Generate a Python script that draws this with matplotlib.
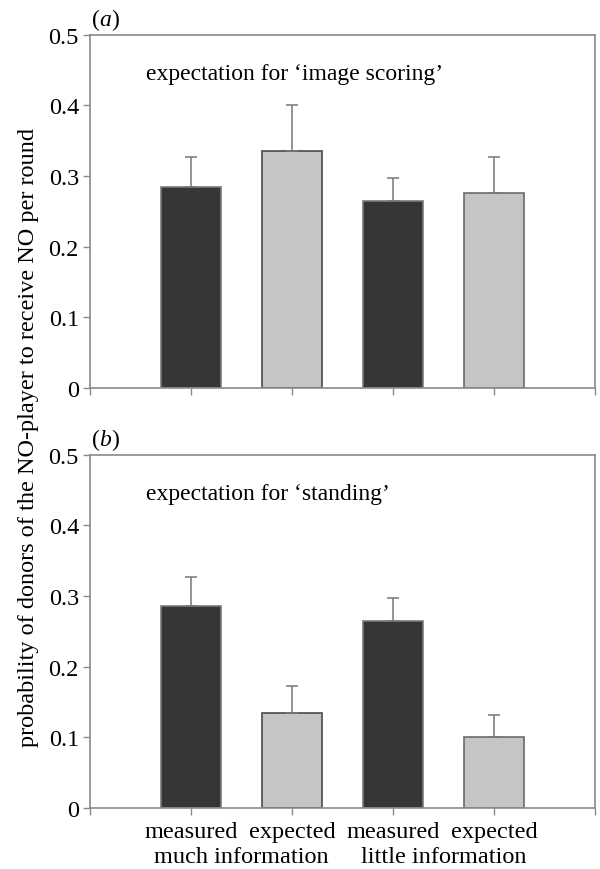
import matplotlib
matplotlib.use("Agg")
import matplotlib.pyplot as plt
import numpy as np

categories = ["measured", "expected", "measured", "expected"]
groups = ["much information", "little information"]
vals_a = [0.285, 0.336, 0.264, 0.276]
err_a = [0.042, 0.064, 0.033, 0.051]
vals_b = [0.286, 0.135, 0.264, 0.101]
err_b = [0.041, 0.037, 0.033, 0.030]
yticks = [0, 0.1, 0.2, 0.3, 0.4, 0.5]
ytick_labels = ["0", "0.1", "0.2", "0.3", "0.4", "0.5"]
notes = ["expectation for \u2018image scoring\u2019", "expectation for \u2018standing\u2019"]
panel_labels = ["a", "b"]

plt.rcParams['font.family'] = ['Liberation Serif', 'DejaVu Serif']
dark = "#363636"
light = "#c4c5c7"
spine_c = "#8a8a8a"

fig = plt.figure(figsize=(6, 8.7), dpi=100)
ax_a = fig.add_axes([0.15, 0.553, 0.8417, 0.406])
ax_b = fig.add_axes([0.15, 0.0701, 0.8417, 0.4063])

x = np.arange(1, len(categories) + 1)
colors = [dark, light, dark, light]
edges = ["#7a7a7a", "#4a4a4a", "#7a7a7a", "#6a6a6a"]

fs_tick = 17.5
for ax, vals, errs, note, pl in [(ax_a, vals_a, err_a, notes[0], panel_labels[0]),
                                 (ax_b, vals_b, err_b, notes[1], panel_labels[1])]:
    ax.bar(x, vals, width=0.6, color=colors, edgecolor=edges, linewidth=1.2, zorder=2)
    ax.errorbar(x, vals, yerr=[np.zeros(len(vals)), errs], fmt='none',
                ecolor="#777777", elinewidth=1.1, capsize=4, capthick=1.1, zorder=3)
    ax.set_xlim(0, 5)
    ax.set_ylim(0, 0.5)
    ax.set_yticks(yticks)
    ax.set_yticklabels(ytick_labels, fontsize=fs_tick)
    ax.set_xticks(np.arange(0, 6))
    for s in ax.spines.values():
        s.set_color(spine_c)
        s.set_linewidth(1.2)
    ax.tick_params(axis='both', direction='out', length=5, width=1, color=spine_c, pad=3)
    ax.text(0.11, 0.89, note, transform=ax.transAxes, fontsize=17, ha='left', va='center')
    ax.text(0.003, 1.012, "(", transform=ax.transAxes, fontsize=17, ha='left', va='bottom')
    ax.annotate(pl, xy=(0.003, 1.012), xycoords='axes fraction', xytext=(5.8, 0),
                textcoords='offset points', fontsize=17, style='italic', ha='left', va='bottom')
    ax.annotate(")", xy=(0.003, 1.012), xycoords='axes fraction', xytext=(14, 0),
                textcoords='offset points', fontsize=17, ha='left', va='bottom')

ax_a.set_xticklabels([])
ax_b.set_xticklabels([""] + categories + [""], fontsize=fs_tick)
ax_b.tick_params(axis='x', pad=4)
for i, g in enumerate(groups):
    ax_b.text(1.5 + 2 * i, -0.068, g, transform=ax_b.transData,
              fontsize=fs_tick, ha='center', va='center', clip_on=False)

fig.text(0.047, 0.497, "probability of donors of the NO-player to receive NO per round",
         rotation=90, fontsize=17.5, ha='center', va='center')

fig.savefig("out.png", dpi=100)
